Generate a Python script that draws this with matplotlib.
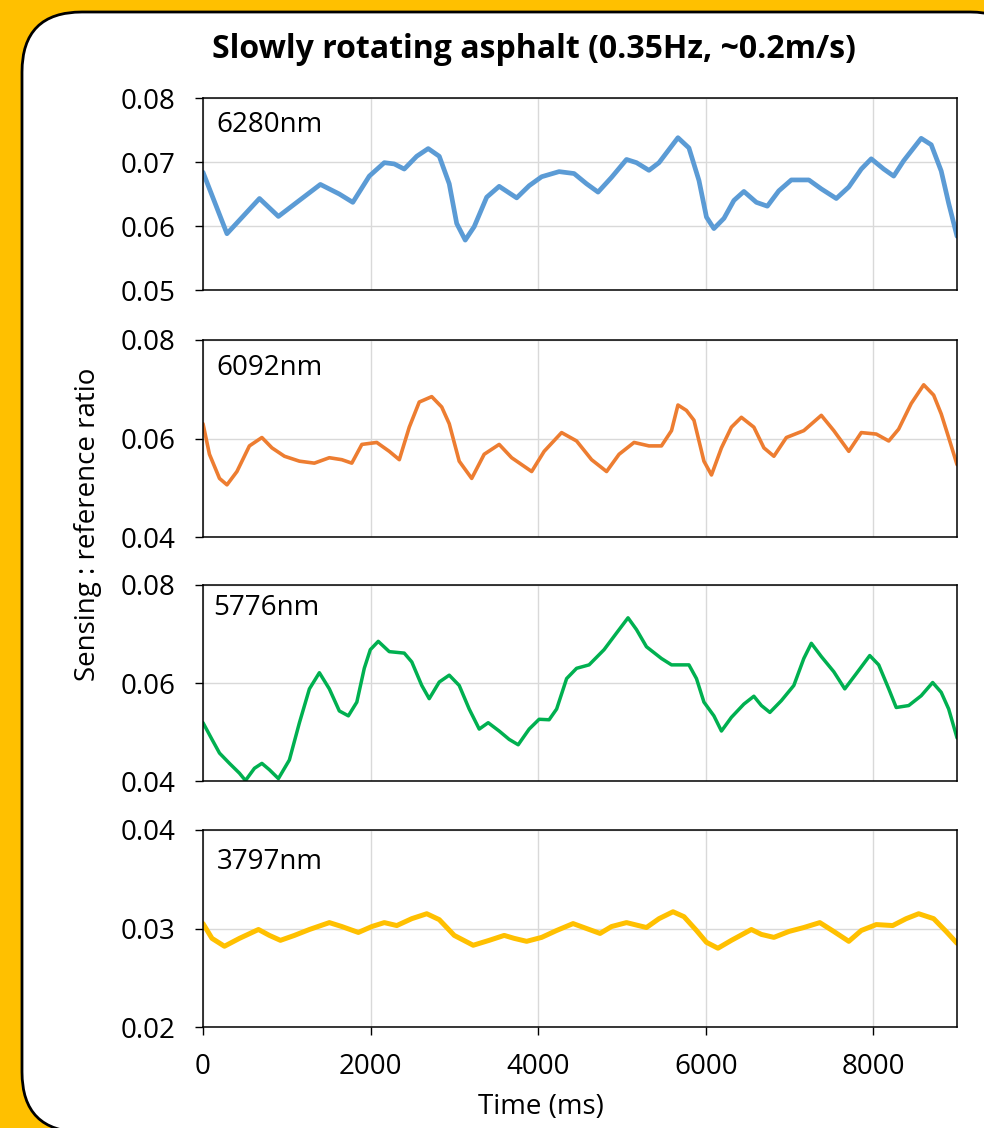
import matplotlib
matplotlib.use("Agg")
import matplotlib.pyplot as plt
from matplotlib.patches import FancyBboxPatch

# --- data (time in ms, sensing:reference ratio) ---
t_6280 = [0, 286, 674, 900, 1150, 1401, 1627, 1788, 1985, 2164, 2283, 2402, 2551, 2688,
          2820, 2939, 3028, 3130, 3237, 3386, 3535, 3744, 3893, 4042, 4250, 4429, 4578,
          4715, 4876, 5055, 5174, 5323, 5443, 5669, 5800, 5920, 6009, 6098, 6218, 6337,
          6456, 6605, 6736, 6873, 7022, 7231, 7380, 7559, 7708, 7857, 7976, 8125, 8244,
          8363, 8572, 8692, 8811, 8901, 9000]
v_6280 = [0.0684, 0.0588, 0.0643, 0.0615, 0.0640, 0.0665, 0.0650, 0.0637, 0.0678, 0.0699,
          0.0697, 0.0689, 0.0709, 0.0721, 0.0709, 0.0666, 0.0604, 0.0578, 0.0599, 0.0645,
          0.0662, 0.0644, 0.0663, 0.0677, 0.0685, 0.0682, 0.0666, 0.0653, 0.0676, 0.0704,
          0.0699, 0.0687, 0.0699, 0.0738, 0.0722, 0.0671, 0.0614, 0.0596, 0.0612, 0.0640,
          0.0654, 0.0637, 0.0631, 0.0655, 0.0672, 0.0672, 0.0658, 0.0643, 0.0661, 0.0689,
          0.0705, 0.0689, 0.0678, 0.0702, 0.0737, 0.0727, 0.0686, 0.0635, 0.0584]

t_6092 = [0, 77, 197, 286, 405, 554, 703, 823, 972, 1151, 1329, 1508, 1657, 1776, 1896,
          2074, 2223, 2343, 2462, 2581, 2730, 2849, 2939, 3058, 3207, 3356, 3535, 3684,
          3923, 4072, 4280, 4459, 4638, 4817, 4966, 5145, 5323, 5472, 5592, 5669, 5770,
          5860, 5979, 6069, 6188, 6307, 6426, 6575, 6695, 6814, 6963, 7171, 7380, 7529,
          7708, 7857, 8036, 8185, 8303, 8453, 8602, 8721, 8811, 8900, 9000]
v_6092 = [0.0630, 0.0568, 0.0519, 0.0506, 0.0533, 0.0585, 0.0602, 0.0581, 0.0564, 0.0554,
          0.0550, 0.0561, 0.0557, 0.0550, 0.0588, 0.0592, 0.0574, 0.0557, 0.0623, 0.0674,
          0.0685, 0.0664, 0.0630, 0.0554, 0.0519, 0.0568, 0.0588, 0.0561, 0.0533, 0.0574,
          0.0612, 0.0595, 0.0557, 0.0533, 0.0568, 0.0592, 0.0585, 0.0585, 0.0616, 0.0668,
          0.0657, 0.0637, 0.0554, 0.0526, 0.0581, 0.0623, 0.0643, 0.0623, 0.0581, 0.0564,
          0.0602, 0.0616, 0.0647, 0.0616, 0.0574, 0.0612, 0.0609, 0.0595, 0.0619, 0.0671,
          0.0709, 0.0688, 0.0650, 0.0602, 0.0547]

t_5776 = [0, 107, 197, 316, 435, 507, 614, 703, 793, 900, 1031, 1151, 1270, 1389, 1508,
          1627, 1735, 1836, 1925, 1997, 2092, 2223, 2402, 2492, 2611, 2700, 2820, 2939,
          3058, 3177, 3297, 3404, 3535, 3654, 3762, 3893, 4012, 4131, 4221, 4340, 4459,
          4608, 4787, 4936, 5073, 5174, 5293, 5472, 5592, 5800, 5890, 5979, 6098, 6188,
          6307, 6456, 6575, 6665, 6766, 6903, 7052, 7171, 7261, 7380, 7529, 7660, 7797,
          7958, 8065, 8185, 8274, 8423, 8572, 8709, 8811, 8900, 9000]
v_5776 = [0.0519, 0.0485, 0.0457, 0.0436, 0.0416, 0.0401, 0.0426, 0.0436, 0.0423, 0.0405,
          0.0443, 0.0519, 0.0588, 0.0621, 0.0588, 0.0543, 0.0533, 0.0561, 0.0630, 0.0668,
          0.0685, 0.0664, 0.0661, 0.0643, 0.0595, 0.0568, 0.0602, 0.0616, 0.0595, 0.0547,
          0.0506, 0.0519, 0.0502, 0.0485, 0.0474, 0.0506, 0.0526, 0.0525, 0.0547, 0.0609,
          0.0630, 0.0637, 0.0668, 0.0702, 0.0733, 0.0709, 0.0674, 0.0650, 0.0637, 0.0637,
          0.0609, 0.0561, 0.0533, 0.0502, 0.0530, 0.0557, 0.0573, 0.0554, 0.0540, 0.0564,
          0.0595, 0.0650, 0.0681, 0.0654, 0.0623, 0.0588, 0.0619, 0.0656, 0.0637, 0.0588,
          0.0550, 0.0554, 0.0574, 0.0601, 0.0581, 0.0547, 0.0488]

t_3797 = [0, 107, 256, 435, 662, 793, 924, 1091, 1270, 1508, 1657, 1854, 2015, 2164, 2313,
          2492, 2671, 2820, 2999, 3225, 3416, 3595, 3714, 3863, 4042, 4221, 4417, 4578,
          4739, 4876, 5055, 5293, 5443, 5610, 5741, 5890, 6009, 6146, 6307, 6545, 6665,
          6814, 6993, 7171, 7362, 7529, 7708, 7857, 8036, 8232, 8393, 8542, 8721, 8870, 9000]
v_3797 = [0.0305, 0.0290, 0.0282, 0.0290, 0.0299, 0.0293, 0.0288, 0.0293, 0.0299, 0.0306,
          0.0302, 0.0296, 0.0302, 0.0306, 0.0303, 0.0310, 0.0315, 0.0309, 0.0293, 0.0283,
          0.0288, 0.0293, 0.0290, 0.0287, 0.0291, 0.0298, 0.0305, 0.0300, 0.0295, 0.0302,
          0.0306, 0.0301, 0.0310, 0.0317, 0.0312, 0.0298, 0.0286, 0.0280, 0.0288, 0.0299,
          0.0294, 0.0291, 0.0297, 0.0301, 0.0306, 0.0297, 0.0287, 0.0298, 0.0304, 0.0303,
          0.0310, 0.0315, 0.0310, 0.0297, 0.0285]

labels = ["6280nm", "6092nm", "5776nm", "3797nm"]
colors = ["#5B9BD5", "#ED7D31", "#00B050", "#FFC000"]
y_limits = [(0.05, 0.08), (0.04, 0.08), (0.04, 0.08), (0.02, 0.04)]
y_ticks = [[0.05, 0.06, 0.07, 0.08], [0.04, 0.06, 0.08], [0.04, 0.06, 0.08], [0.02, 0.03, 0.04]]
x_ticks = [0, 2000, 4000, 6000, 8000]

series = [(t_6280, v_6280), (t_6092, v_6092), (t_5776, v_5776), (t_3797, v_3797)]
widths = [3.4, 2.6, 2.5, 3.6]

plt.rcParams['font.family'] = ['Open Sans', 'DejaVu Sans']

fig = plt.figure(figsize=(9.84, 11.28), dpi=100)
fig.patch.set_facecolor("#FFC000")

# white rounded panel behind everything
panel = FancyBboxPatch((0.22, -0.04), 10.08, 11.20,
                       boxstyle="round,pad=0,rounding_size=0.6",
                       transform=fig.dpi_scale_trans, facecolor="white",
                       edgecolor="black", linewidth=2.0, zorder=-5)
fig.patches.append(panel)

# axes boxes in figure fraction: (left, bottom, width, height)
boxes = [(0.2063, 0.7429, 0.7663, 0.1702),
         (0.2063, 0.5239, 0.7663, 0.1747),
         (0.2063, 0.3076, 0.7663, 0.1738),
         (0.2063, 0.0895, 0.7663, 0.1747)]
label_pos = [(0.018, 0.86), (0.018, 0.858), (0.013, 0.883), (0.018, 0.838)]

for i, (t, v) in enumerate(series):
    ax = fig.add_axes(boxes[i])
    ax.set_facecolor("white")
    ax.plot(t, v, color=colors[i], linewidth=widths[i], solid_joinstyle="round",
            solid_capstyle="round")
    ax.set_xlim(0, 9000)
    ax.set_ylim(*y_limits[i])
    ax.set_yticks(y_ticks[i])
    ax.set_yticklabels([f"{y:.2f}" for y in y_ticks[i]])
    ax.set_xticks(x_ticks)
    ax.grid(True, color="#D9D9D9", linewidth=1.0)
    ax.set_axisbelow(True)
    for s in ax.spines.values():
        s.set_color("black")
        s.set_linewidth(1.1)
    ax.tick_params(axis="y", direction="out", length=6, width=1, pad=14, labelsize=20)
    if i < 3:
        ax.tick_params(axis="x", length=0, labelbottom=False)
    else:
        ax.tick_params(axis="x", direction="out", length=6, width=1, pad=13, labelsize=20)
    ax.text(label_pos[i][0], label_pos[i][1], labels[i], transform=ax.transAxes,
            fontsize=20, ha="left", va="center")

fig.text(0.543, 0.9557, "Slowly rotating asphalt (0.35Hz, ~0.2m/s)", fontsize=23,
         fontweight="bold", ha="center", va="center")
fig.text(0.089, 0.535, "Sensing : reference ratio", fontsize=20, rotation=90,
         ha="center", va="center")
fig.text(0.55, 0.019, "Time (ms)", fontsize=20, ha="center", va="center")

fig.savefig("out.png", dpi=100, facecolor=fig.get_facecolor())
